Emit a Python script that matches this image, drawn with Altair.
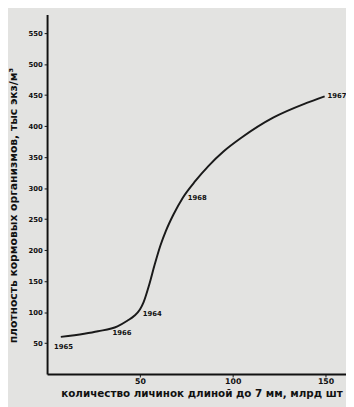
import altair as alt
import pandas as pd

# traced curve (x: larvae count, bn; y: density, thousand ind/m^3)
curve_x = [7.4, 20, 27.4, 37.9, 43.2, 47, 50, 52, 55, 58, 61, 64, 68, 73.2, 80, 87, 95, 105, 122, 139.5, 149.5]
curve_y = [60, 65, 69, 77, 86, 94, 104, 116, 144, 177, 207, 231, 257, 285, 312, 336, 359, 382, 414, 437, 448]

# labelled years
years = ["1965", "1966", "1964", "1968", "1967"]
year_x = [7.4, 37.9, 50, 73.2, 149.5]
year_y = [60, 77, 104, 285, 448]
year_dx = [-7, -5, 3, 5, 3]
year_dy = [10, 7, 5, 1, 0]

y_ticks = [50, 100, 150, 200, 250, 300, 350, 400, 450, 500, 550]
x_ticks = [50, 100, 150]

curve = pd.DataFrame({"x": curve_x, "y": curve_y, "o": list(range(len(curve_x))), "yr": ""})
pts = pd.DataFrame({"x": year_x, "y": year_y, "o": -1, "yr": years})
df = pd.concat([curve, pts], ignore_index=True)

FONT = "DejaVu Sans"
xs = alt.Scale(domain=[0, 161], nice=False)
ys = alt.Scale(domain=[0, 580], nice=False)

base = alt.Chart(df).encode(
    x=alt.X("x:Q", scale=xs, axis=alt.Axis(
        values=x_ticks, title="количество  личинок  длиной  до 7 мм,  млрд шт",
        grid=False, domainColor="#111", domainWidth=2, tickColor="#111", tickSize=3,
        labelOverlap=False,
        labelFont=FONT, labelFontSize=8, labelFontWeight="bold", labelColor="#111", labelPadding=1,
        titleFont=FONT, titleFontSize=10.6, titleFontWeight="bold", titleColor="#111",
        titleAnchor="start", titleAlign="left", titleX=14, titleY=20, titleBaseline="middle")),
    y=alt.Y("y:Q", scale=ys, axis=alt.Axis(
        values=y_ticks, title="плотность   кормовых   организмов,   тыс экз/м³",
        grid=False, domainColor="#111", domainWidth=2, tickColor="#111", tickSize=3,
        labelOverlap=False,
        labelFont=FONT, labelFontSize=7, labelFontWeight="bold", labelColor="#111", labelPadding=2,
        titleFont=FONT, titleFontSize=11, titleFontWeight="bold", titleColor="#111",
        titleAngle=-90, titleX=-34, titleY=195, titleAlign="center", titleBaseline="middle")),
)

line = base.transform_filter("datum.o >= 0").mark_line(
    color="#1a1a1a", strokeWidth=2, interpolate="monotone"
).encode(order="o:Q")

labels = [
    base.transform_filter(alt.datum.yr == yr).mark_text(
        font=FONT, fontSize=7, fontWeight="bold", color="#111", align="left",
        dx=int(d), dy=int(e)
    ).encode(text="yr:N")
    for yr, d, e in zip(years, year_dx, year_dy)
]

chart = alt.layer(line, *labels).properties(
    width=306, height=368,
    padding={"left": 40, "top": 2, "right": 0, "bottom": 29},
    autosize=alt.AutoSizeParams(type="none"),
    background="#e3e3e1",
).configure_view(stroke=None).configure_axis(labelOverlap=False)

chart.save("out.html", embed_options={"renderer": "svg", "actions": False})
